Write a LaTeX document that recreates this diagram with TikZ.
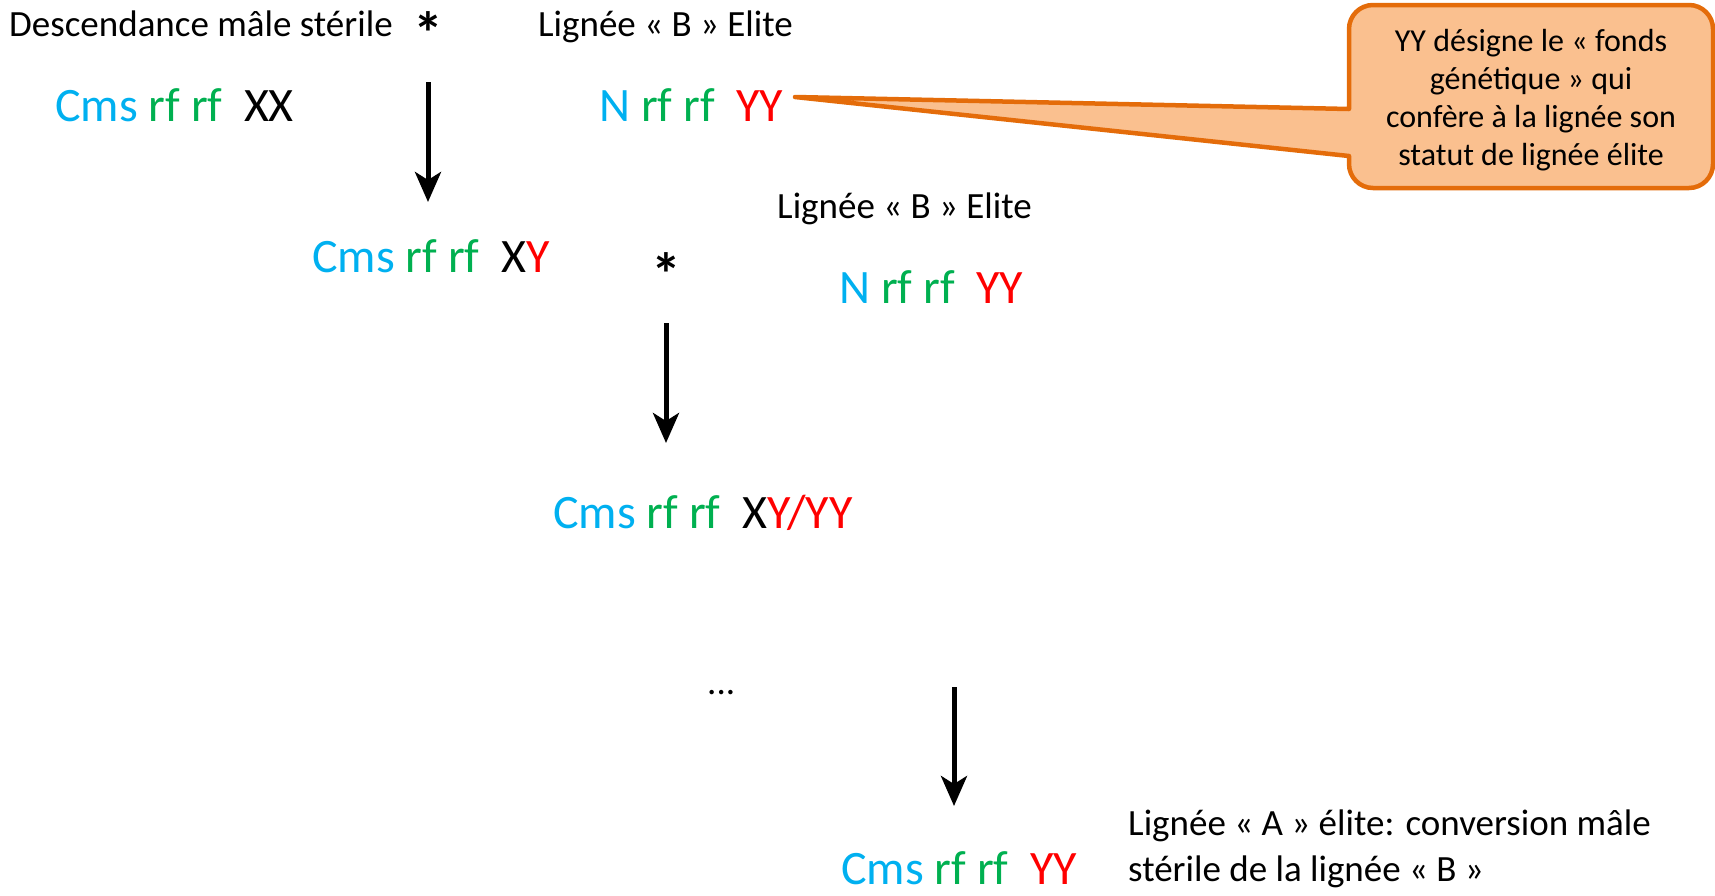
\documentclass[tikz,border=0pt]{standalone}
\usepackage{fontspec}
\setmainfont{Carlito}
\usetikzlibrary{arrows.meta}

\definecolor{cmsbleu}{RGB}{0,176,240}
\definecolor{rfvert}{RGB}{0,176,80}
\definecolor{yrouge}{RGB}{255,0,0}
\definecolor{bullefond}{RGB}{250,192,143}
\definecolor{bulletrait}{RGB}{228,108,10}

\newcommand{\cyto}[1]{\textcolor{cmsbleu}{#1}}
\newcommand{\rfrf}{\textcolor{rfvert}{rf rf}}
\newcommand{\genY}[1]{\textcolor{yrouge}{#1}}

\begin{document}
\begin{tikzpicture}[x=1pt, y=-1pt,
  petit/.style={font=\fontsize{37}{46}\selectfont, inner sep=0pt, anchor=base west},
  grand/.style={font=\fontsize{48}{56}\selectfont, inner sep=0pt, anchor=base west},
  etoile/.style={font=\fontsize{60}{66}\selectfont\bfseries, inner sep=0pt, anchor=base},
  fleche/.style={line width=5pt, -{Stealth[length=30pt, width=26pt, inset=8pt]}},
  bulle/.style={fill=bullefond, draw=bulletrait, line width=4.5pt, line join=round}]

  % cadre de la page
  \useasboundingbox (0,0) rectangle (1715,895);

  % ---- génération 0 : croisement ----
  \node[petit] (desc) at (9,36) {Descendance mâle stérile};
  \node[etoile] (etoile1) at (428,54) {*};
  \node[petit] (ligneeB1) at (538,36) {Lignée « B » Elite};
  \node[grand] (cmsXX) at (55,121) {\cyto{Cms} \rfrf\ \ XX};
  \node[grand] (nYY1) at (599,121) {\cyto{N} \rfrf\ \ \genY{YY}};

  % bulle explicative (pointe vers YY)
  \coordinate (pointe) at (795,97);
  \draw[bulle] (1531,5) [rounded corners=24pt] -- (1349,5)
    [sharp corners] -- (1349,109) -- (pointe) -- (1349,156)
    [rounded corners=24pt] -- (1349,188) -- (1713,188) -- (1713,5) -- cycle;
  \node[font=\fontsize{32}{38}\selectfont, inner sep=0pt, align=center] (texteBulle) at (1531,100)
    {YY désigne le « fonds\\génétique » qui\\confère à la lignée son\\statut de lignée élite};

  % ---- génération 1 : rétrocroisement ----
  \coordinate (f1h) at (428,82);
  \coordinate (f1b) at (428,202);
  \draw[fleche] (f1h) -- (f1b);

  \node[petit] (ligneeB2) at (777,218) {Lignée « B » Elite};
  \node[grand] (cmsXY) at (312,272) {\cyto{Cms} \rfrf\ \ X\genY{Y}};
  \node[etoile] (etoile2) at (666,295) {*};
  \node[grand] (nYY2) at (839,303) {\cyto{N} \rfrf\ \ \genY{YY}};

  % ---- génération 2 ----
  \coordinate (f2h) at (666,323);
  \coordinate (f2b) at (666,443);
  \draw[fleche] (f2h) -- (f2b);
  \node[grand] (cmsXYYY) at (553,528) {\cyto{Cms} \rfrf\ \ X\genY{Y/YY}};

  % ---- générations suivantes ----
  \node[petit] (points) at (707,694) {...};
  \coordinate (f3h) at (954,687);
  \coordinate (f3b) at (954,806);
  \draw[fleche] (f3h) -- (f3b);

  \node[grand] (cmsYY) at (841,884) {\cyto{Cms} \rfrf\ \ \genY{YY}};
  \node[petit, align=left, anchor=north west] (ligneeA) at (1128,810)
    {Lignée « A » élite: conversion mâle\\stérile de la lignée « B »};

\end{tikzpicture}
\end{document}
